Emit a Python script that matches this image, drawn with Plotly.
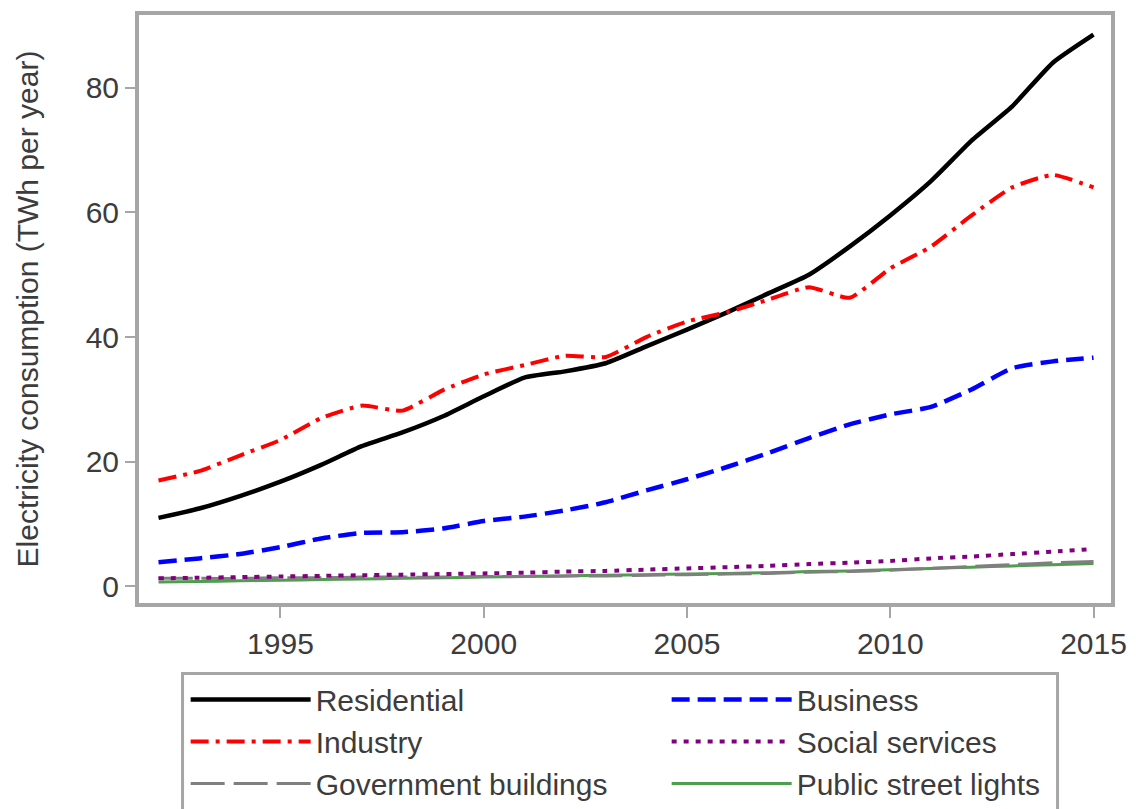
import plotly.graph_objects as go

# Annual electricity consumption by sector, TWh per year
years = list(range(1992, 2016))

residential = [11.0, 12.5, 14.5, 16.8, 19.5, 22.5, 24.7, 27.3, 30.5, 33.5, 34.5, 35.8,
               38.5, 41.2, 44.0, 47.0, 50.0, 54.5, 59.5, 65.0, 71.5, 77.0, 84.0, 88.5]
industry = [17.0, 18.5, 21.0, 23.5, 27.0, 29.0, 28.2, 31.5, 34.0, 35.5, 37.0, 36.8,
            40.0, 42.5, 44.0, 46.0, 48.0, 46.3, 51.0, 54.5, 59.5, 64.0, 66.0, 64.0]
government = [1.3, 1.3, 1.3, 1.4, 1.4, 1.5, 1.5, 1.5, 1.6, 1.6, 1.7, 1.7,
              1.8, 1.9, 2.0, 2.1, 2.3, 2.4, 2.6, 2.9, 3.2, 3.5, 3.8, 4.0]
business = [3.9, 4.5, 5.2, 6.3, 7.7, 8.6, 8.7, 9.3, 10.5, 11.2, 12.2, 13.5,
            15.4, 17.2, 19.2, 21.4, 23.8, 26.0, 27.6, 28.8, 31.6, 35.0, 36.1, 36.7]
social = [1.3, 1.4, 1.5, 1.6, 1.7, 1.8, 1.9, 2.0, 2.1, 2.2, 2.4, 2.5,
          2.7, 2.9, 3.1, 3.3, 3.6, 3.8, 4.1, 4.5, 4.8, 5.2, 5.6, 6.0]
street_lights = [0.7, 0.8, 0.9, 1.0, 1.1, 1.2, 1.3, 1.4, 1.5, 1.6, 1.7, 1.8,
                 1.9, 2.0, 2.1, 2.2, 2.4, 2.5, 2.7, 2.9, 3.1, 3.3, 3.5, 3.7]

x_ticks = [1995, 2000, 2005, 2010, 2015]
y_ticks = [0, 20, 40, 60, 80]

FONT = "Liberation Sans, Arial, sans-serif"
TEXT = "#3c3c3c"
FRAME = "#a6a6a6"

# name, values, colour, dash, width, legend rank (two-column legend, row-wise)
series = [
    ("Public street lights", street_lights, "#4f9d4f", "solid", 3, 6),
    ("Government buildings", government, "#7f7f7f", "34px,9px", 3, 5),
    ("Social services", social, "#800080", "5px,7px", 4, 4),
    ("Business", business, "#0000ff", "18px,8px", 4.5, 2),
    ("Residential", residential, "#000000", "solid", 4.5, 1),
    ("Industry", industry, "#ff0000", "18px,7px,4px,7px", 4, 3),
]

fig = go.Figure()
for name, vals, color, dash, width, rank in series:
    fig.add_trace(go.Scatter(
        x=years, y=vals, name=name, mode="lines",
        line=dict(color=color, dash=dash, width=width, shape="spline", smoothing=0.5),
        legendrank=rank,
    ))

fig.update_layout(
    width=1136, height=809,
    margin=dict(l=139, r=25, t=15, b=206, autoexpand=False),
    paper_bgcolor="white", plot_bgcolor="white",
    font=dict(family=FONT, size=30, color=TEXT),
    showlegend=True,
    legend=dict(
        orientation="h",
        x=0.048, xanchor="left",
        y=-0.12, yanchor="top",
        entrywidth=346, entrywidthmode="pixels",
        itemwidth=120,
        font=dict(family=FONT, size=30, color=TEXT),
        borderwidth=0,
        bgcolor="rgba(0,0,0,0)",
        tracegroupgap=0,
    ),
    # frame around the legend block below the plot
    shapes=[dict(
        type="rect", xref="paper", yref="paper",
        x0=0.0448, x1=0.945, y0=-0.120, y1=-0.40,
        line=dict(color=FRAME, width=3), fillcolor="rgba(0,0,0,0)",
    )],
)

fig.update_xaxes(
    range=[1991.52, 2015.43],
    tickvals=x_ticks, ticktext=[str(v) for v in x_ticks],
    ticks="outside", ticklen=11, tickwidth=2, tickcolor=FRAME,
    showline=True, linecolor=FRAME, linewidth=4, mirror=True,
    showgrid=False, zeroline=False,
    tickfont=dict(family=FONT, size=30, color=TEXT),
)
fig.update_yaxes(
    range=[-2.65, 91.65],
    tickvals=y_ticks, ticktext=[str(v) for v in y_ticks],
    ticks="outside", ticklen=10, tickwidth=2, tickcolor=FRAME,
    showline=True, linecolor=FRAME, linewidth=4, mirror=True,
    showgrid=False, zeroline=False,
    tickfont=dict(family=FONT, size=30, color=TEXT),
    title=dict(text="Electricity consumption (TWh per year)",
               font=dict(family=FONT, size=30, color=TEXT), standoff=39),
)

fig.write_html("out.html")
